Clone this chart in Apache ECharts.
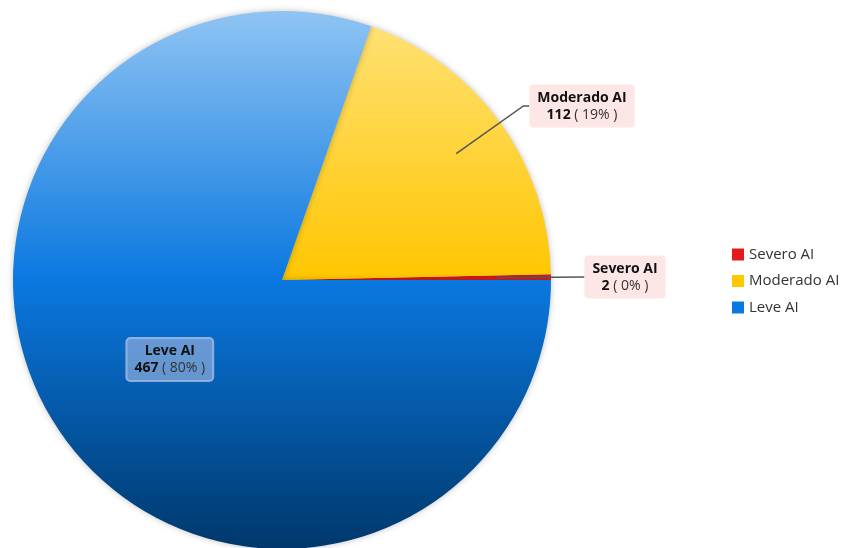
<!DOCTYPE html>
<html>
<head>
<meta charset="utf-8">
<script src="https://cdn.jsdelivr.net/npm/echarts@6/dist/echarts.min.js"></script>
<style>html,body{margin:0;padding:0;background:#fff}#c{width:844px;height:548px}</style>
</head>
<body>
<div id="c"></div>
<script>
var categories = ['Severo AI', 'Moderado AI', 'Leve AI'];
var values = [2, 112, 467];
var percentLabels = ['0%', '19%', '80%'];

var CX = 282, CY = 280, R = 269;
var FONT = '"Open Sans", "DejaVu Sans", sans-serif';

var topColors = ['#e31a1c', '#ffe27a', '#8fc4f3'];
var midColors = ['#e31a1c', '#ffd84a', '#0a78e0'];
var botColors = ['#e31a1c', '#ffc600', '#00386c'];
var legendColors = ['#e31a1c', '#ffc800', '#0a78e0'];

function grad(i) {
  return new echarts.graphic.LinearGradient(0, CY - R, 0, CY + R, [
    {offset: 0, color: topColors[i]},
    {offset: 0.5, color: i === 1 ? botColors[i] : midColors[i]},
    {offset: 1, color: botColors[i]}
  ], true);
}

var total = values.reduce(function (a, b) { return a + b; }, 0);
function midAngle(i) {
  var s = 0;
  for (var k = 0; k < i; k++) s += values[k];
  return (s + values[i] / 2) / total * 2 * Math.PI;
}

var outsideLabelOffsets = {0: [343, -3], 1: [300, -174]};

var baseData = categories.map(function (c, i) {
  return {name: c, value: values[i], itemStyle: {color: grad(i)}};
});

var labelData = categories.map(function (c, i) {
  var item = {name: c, value: values[i]};
  if (i === 2) {
    item.label = {
      position: 'inside',
      backgroundColor: 'rgba(165,185,225,0.6)',
      borderColor: 'rgba(190,205,235,0.7)',
      borderWidth: 1
    };
  }
  return item;
});

var chart = echarts.init(document.getElementById('c'), null, {renderer: 'canvas'});
chart.setOption({
  animation: false,
  legend: {
    orient: 'vertical',
    left: 727,
    top: 242,
    icon: 'rect',
    itemWidth: 12,
    itemHeight: 12,
    itemGap: 11.5,
    data: categories.map(function (c, i) { return {name: c, itemStyle: {color: legendColors[i]}}; }),
    textStyle: {fontFamily: FONT, fontSize: 15, color: '#333'}
  },
  series: [{
    type: 'pie',
    name: 'base',
    z: 2,
    center: [CX, CY],
    radius: R,
    startAngle: 0,
    clockwise: false,
    data: baseData,
    silent: true,
    label: {show: false},
    labelLine: {show: false},
    itemStyle: {shadowBlur: 6, shadowColor: 'rgba(0,0,0,0.25)'},
    emphasis: {disabled: true}
  }, {
    type: 'pie',
    name: 'labels',
    z: 5,
    center: [CX, CY],
    radius: R,
    startAngle: 0,
    clockwise: false,
    data: labelData,
    silent: true,
    itemStyle: {color: 'rgba(0,0,0,0)'},
    emphasis: {disabled: true},
    label: {
      show: true,
      position: 'outside',
      formatter: function (p) {
        return '{b|' + p.name + '}\n{v|' + p.value + '}{p| ( ' + percentLabels[p.dataIndex] + ' )}';
      },
      backgroundColor: '#fde6e6',
      borderRadius: 4,
      padding: [5, 8, 4, 8],
      rich: {
        b: {fontFamily: FONT, fontSize: 14, fontWeight: 'bold', color: '#111', lineHeight: 17, align: 'center'},
        v: {fontFamily: FONT, fontSize: 14, fontWeight: 'bold', color: '#111', lineHeight: 17},
        p: {fontFamily: FONT, fontSize: 14, color: '#333', lineHeight: 17}
      }
    },
    labelLine: {show: true, lineStyle: {color: '#555', width: 1.5}},
    labelLayout: function (params) {
      var i = params.dataIndex;
      if (i === 2) return {};
      var a = midAngle(i);
      var sx = CX + 0.8 * R * Math.cos(a);
      var sy = CY - 0.8 * R * Math.sin(a);
      var off = outsideLabelOffsets[i];
      var lx = CX + off[0];
      var ly = CY + off[1];
      var w = params.labelRect.width;
      var pts;
      if (i === 1) {
        pts = [[sx, sy], [lx - w / 2 - 6, ly], [lx - w / 2, ly]];
      } else {
        pts = [[sx, sy], [lx - w / 2, ly], [lx - w / 2, ly]];
      }
      return {x: lx, y: ly, align: 'center', verticalAlign: 'middle', labelLinePoints: pts};
    }
  }]
});
</script>
</body>
</html>
